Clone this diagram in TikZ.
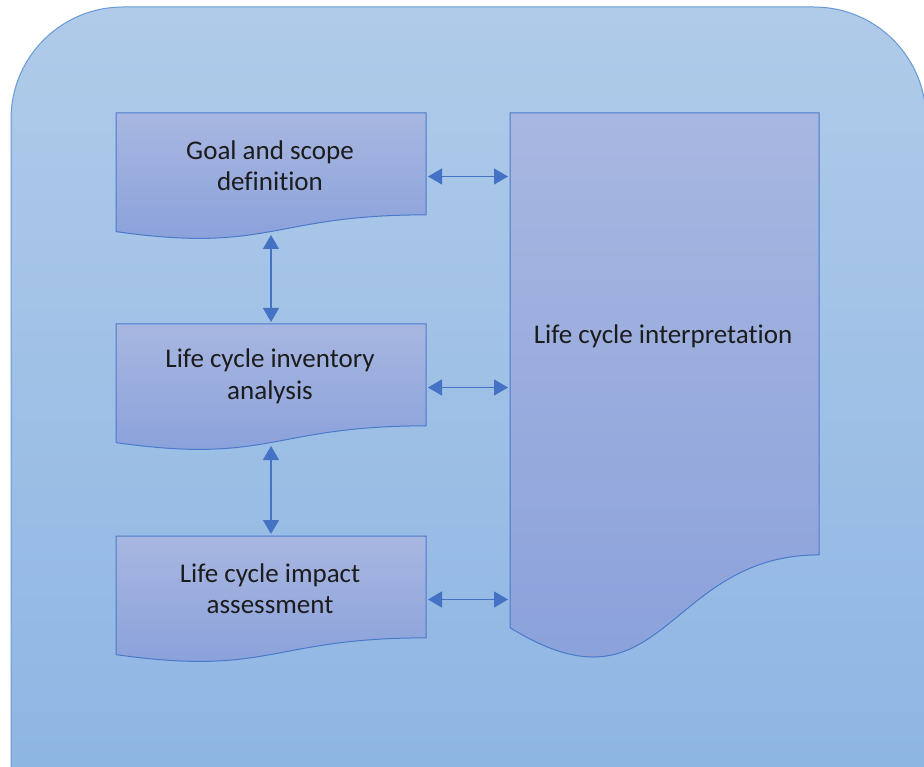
\documentclass[tikz,border=0pt]{standalone}
\usepackage{fontspec}
\setmainfont{Carlito}[Ligatures={NoCommon}]
\usetikzlibrary{arrows.meta}

\definecolor{bgtop}{RGB}{176,203,233}
\definecolor{bgbot}{RGB}{136,178,226}
\definecolor{bgline}{RGB}{104,152,214}
\definecolor{boxtop}{RGB}{168,183,225}
\definecolor{boxbot}{RGB}{136,159,218}
\definecolor{boxline}{RGB}{74,122,204}
\definecolor{arrowcol}{RGB}{68,114,196}
\definecolor{txt}{RGB}{28,28,28}

% flow-chart "document" outline: x0, y0, width, height (y grows downwards)
\newcommand\docpath[4]{%
  (#1,#2) -- ({#1+#3},#2) -- ({#1+#3},{#2+0.802*#4})
  .. controls ({#1+0.5*#3},{#2+0.802*#4}) and ({#1+0.5*#3},{#2+1.1075*#4}) ..
  (#1,{#2+0.934*#4}) -- cycle}

\tikzset{
  docbox/.style={draw=boxline, line width=1pt, top color=boxtop, bottom color=boxbot},
  label text/.style={font=\fontsize{27}{31.5}\selectfont, text=txt, align=center, inner sep=0pt},
  link/.style={draw=arrowcol, line width=1.4pt,
    {Triangle[length=14pt,width=16pt]}-{Triangle[length=14pt,width=16pt]}},
}

\begin{document}
\begin{tikzpicture}[x=1pt,y=-1pt]
\useasboundingbox (0,0) rectangle (924,767);
\clip (0,0) rectangle (924,767);

% panel behind everything
\path[draw=bgline, line width=1pt, top color=bgtop, bottom color=bgbot, rounded corners=112pt]
  (11,7) rectangle (926,900);

% process steps
\path[docbox] \docpath{116}{113}{310}{127};
\path[docbox] \docpath{116}{324}{310}{127};
\path[docbox] \docpath{116}{536}{310}{127};
\path[docbox] \docpath{510}{113}{309}{551};

\node[label text] (goal)   at (270,165.5) {Goal and scope\\definition};
\node[label text] (lci)    at (270,376.5) {Life cycle inventory\\analysis};
\node[label text] (lcia)   at (270,588.5) {Life cycle impact\\assessment};
\node[label text] (interp) at (663,336)  {Life cycle interpretation};

% connection points on the outlines
\coordinate (goal-e)   at (426,176.5);
\coordinate (lci-e)    at (426,387.5);
\coordinate (lcia-e)   at (426,599.5);
\coordinate (interp-1) at (510,176.5);
\coordinate (interp-2) at (510,387.5);
\coordinate (interp-3) at (510,599.5);
\coordinate (goal-s)   at (271,232);
\coordinate (lci-n)    at (271,324);
\coordinate (lci-s)    at (271,443);
\coordinate (lcia-n)   at (271,536);

\draw[link, shorten <=2pt, shorten >=2pt] (goal-e) -- (interp-1);
\draw[link, shorten <=2pt, shorten >=2pt] (lci-e) -- (interp-2);
\draw[link, shorten <=2pt, shorten >=2pt] (lcia-e) -- (interp-3);
\draw[link, shorten <=3pt, shorten >=2pt] (goal-s) -- (lci-n);
\draw[link, shorten <=3pt, shorten >=2pt] (lci-s) -- (lcia-n);
\end{tikzpicture}
\end{document}
